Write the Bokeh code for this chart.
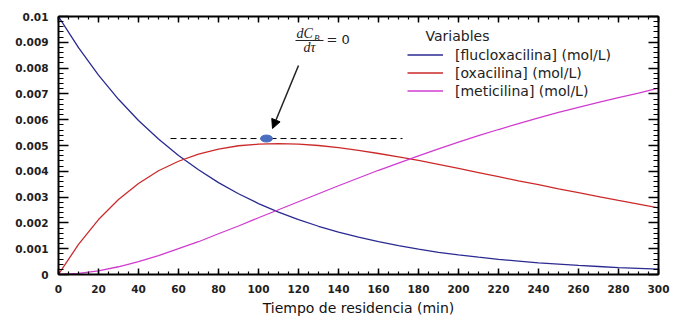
from bokeh.plotting import figure
from bokeh.models import (Range1d, FixedTicker, LinearAxis, Legend, LegendItem, Label,
                          Arrow, NormalHead, CustomJSTickFormatter)
from bokeh.embed import file_html
from bokeh.resources import INLINE

# ---------------- data ----------------
tau = [0, 10, 20, 30, 40, 50, 60, 70, 80, 90, 100, 110, 120, 130, 140, 150,
       160, 170, 180, 190, 200, 210, 220, 230, 240, 250, 260, 270, 280, 290, 300]

flucloxacilina = [0.01000, 0.00879, 0.00773, 0.00679, 0.00597, 0.00525, 0.00461, 0.00406,
                  0.00356, 0.00313, 0.00275, 0.00242, 0.00213, 0.00187, 0.00164, 0.00145,
                  0.00127, 0.00112, 0.00098, 0.00086, 0.00076, 0.00067, 0.00059, 0.00052,
                  0.00045, 0.00040, 0.00035, 0.00031, 0.00027, 0.00024, 0.00021]

oxacilina = [0.0, 0.00117, 0.00213, 0.00291, 0.00353, 0.00402, 0.00439, 0.00467,
             0.00486, 0.00499, 0.00505, 0.00507, 0.00505, 0.00500, 0.00492, 0.00481,
             0.00469, 0.00456, 0.00442, 0.00427, 0.00411, 0.00395, 0.00379, 0.00363,
             0.00348, 0.00332, 0.00317, 0.00302, 0.00287, 0.00273, 0.00258]

meticilina = [0.0, 0.00004, 0.00014, 0.00030, 0.00050, 0.00073, 0.00100, 0.00127,
              0.00158, 0.00188, 0.00220, 0.00251, 0.00282, 0.00313, 0.00344, 0.00374,
              0.00404, 0.00432, 0.00460, 0.00487, 0.00513, 0.00538, 0.00562, 0.00585,
              0.00607, 0.00628, 0.00648, 0.00667, 0.00686, 0.00703, 0.00722]

series_names = ["[flucloxacilina] (mol/L)", "[oxacilina] (mol/L)", "[meticilina] (mol/L)"]
legend_title = "Variables"

# stationary point of oxacilina (dC_B/dtau = 0) marker and dashed guide
stat_tau = 104
stat_c = 0.00527
guide_tau = [56, 172]

x_ticks = [0, 20, 40, 60, 80, 100, 120, 140, 160, 180, 200, 220, 240, 260, 280, 300]
x_tick_labels = ["0", "20", "40", "60", "80", "100", "120", "140", "160", "180",
                 "200", "220", "240", "260", "280", "300"]
y_ticks = [0.0, 0.001, 0.002, 0.003, 0.004, 0.005, 0.006, 0.007, 0.008, 0.009, 0.01]
y_tick_labels = ["0", "0.001", "0.002", "0.003", "0.004", "0.005", "0.006", "0.007",
                 "0.008", "0.009", "0.01"]
x_label = "Tiempo de residencia (min)"

# ---------------- figure ----------------
p = figure(width=676, height=322, output_backend="svg", toolbar_location=None,
           x_range=Range1d(0, 300), y_range=Range1d(0, 0.01),
           min_border_left=58, min_border_right=18, min_border_top=16, min_border_bottom=48,
           x_axis_label=x_label)
p.xgrid.visible = False
p.ygrid.visible = False
p.outline_line_color = None
p.background_fill_color = "white"
p.border_fill_color = "white"

x_minor = [v for v in range(0, 301, 5)]
y_minor = [i * 0.0002 for i in range(51)]

TICK_FONT = "DejaVu Sans"


def style_axis(ax, major_in, minor_in):
    ax.axis_line_width = 2
    ax.axis_line_color = "black"
    ax.major_tick_in = major_in
    ax.major_tick_out = 0
    ax.minor_tick_in = minor_in
    ax.minor_tick_out = 0
    ax.major_tick_line_width = 1.5
    ax.minor_tick_line_width = 1.2
    ax.major_tick_line_color = "black"
    ax.minor_tick_line_color = "black"
    ax.major_label_text_font = TICK_FONT
    ax.major_label_text_font_style = "bold"
    ax.major_label_text_font_size = "10.5px"
    ax.major_label_text_color = "#1e1e1e"


xa = p.xaxis[0]
xa.ticker = FixedTicker(ticks=x_ticks, minor_ticks=x_minor)
xa.major_label_overrides = dict(zip(x_ticks, x_tick_labels))
style_axis(xa, 6, 3)
xa.major_label_standoff = 10
xa.axis_label_text_font = "DejaVu Sans"
xa.axis_label_text_font_size = "14px"
xa.axis_label_text_font_style = "normal"
xa.axis_label_text_color = "#111111"
xa.axis_label_standoff = 4

ya = p.yaxis[0]
ya.ticker = FixedTicker(ticks=y_ticks, minor_ticks=y_minor)
ya.major_label_overrides = dict(zip(y_ticks, y_tick_labels))
style_axis(ya, 10, 5)
ya.major_label_standoff = 10

blank = "return ''"
top = LinearAxis(ticker=FixedTicker(ticks=x_ticks, minor_ticks=x_minor),
                 formatter=CustomJSTickFormatter(code=blank), major_label_standoff=0)
style_axis(top, 6, 3)
p.add_layout(top, "above")
right = LinearAxis(ticker=FixedTicker(ticks=y_ticks, minor_ticks=y_minor),
                   formatter=CustomJSTickFormatter(code=blank), major_label_standoff=0)
style_axis(right, 10, 5)
p.add_layout(right, "right")

# ---------------- curves ----------------
colors = ["#2a2a92", "#cc2a2a", "#d03cd0"]
r1 = p.line(tau, flucloxacilina, line_color=colors[0], line_width=1.3)
r2 = p.line(tau, oxacilina, line_color=colors[1], line_width=1.3)
r3 = p.line(tau, meticilina, line_color=colors[2], line_width=1.3)

# dashed guide + point
p.line(guide_tau, [stat_c, stat_c], line_color="black", line_width=1, line_dash="6 4")
p.ellipse(x=[stat_tau], y=[stat_c], width=12, height=7, width_units="screen",
          height_units="screen", fill_color="#4a6fc0", line_color="#4a6fc0")

# annotation: dC_B/dtau = 0 with arrow
p.add_layout(Arrow(end=NormalHead(size=9, fill_color="black", line_color="black"),
                   x_start=120, y_start=0.0081, x_end=107, y_end=0.00566,
                   line_color="#222222", line_width=1.5))
SERIF = "Liberation Serif"
p.add_layout(Label(x=119, y=0.00934, text="dC", text_font=SERIF, text_font_style="italic",
                   text_font_size="14px", text_baseline="middle", text_align="left",
                   text_color="#222222"))
p.add_layout(Label(x=127.8, y=0.00917, text="B", text_font=SERIF, text_font_style="italic",
                   text_font_size="9px", text_baseline="middle", text_align="left",
                   text_color="#222222"))
p.line([118.5, 132.5], [0.00907, 0.00907], line_color="#222222", line_width=1)
p.add_layout(Label(x=125.5, y=0.00878, text="dτ", text_font=SERIF, text_font_style="italic",
                   text_font_size="14px", text_baseline="middle", text_align="center",
                   text_color="#222222"))
p.add_layout(Label(x=134, y=0.00909, text="= 0", text_font="DejaVu Sans",
                   text_font_size="13px", text_baseline="middle", text_align="left",
                   text_color="#222222"))

# legend
p.add_layout(Label(x=183.5, y=0.00926, text=legend_title, text_font="DejaVu Sans",
                   text_font_size="14px", text_baseline="middle", text_align="left",
                   text_color="#222222"))
legend = Legend(items=[LegendItem(label=series_names[0], renderers=[r1]),
                       LegendItem(label=series_names[1], renderers=[r2]),
                       LegendItem(label=series_names[2], renderers=[r3])],
                location=(349, 175), orientation="vertical", padding=0, margin=0, spacing=1,
                glyph_width=36, glyph_height=17, label_height=17, label_standoff=12,
                label_text_font="DejaVu Sans", label_text_font_size="14px",
                label_text_color="#222222",
                background_fill_alpha=0, border_line_alpha=0)
p.add_layout(legend)

open("out.html", "w").write(file_html(p, INLINE))
